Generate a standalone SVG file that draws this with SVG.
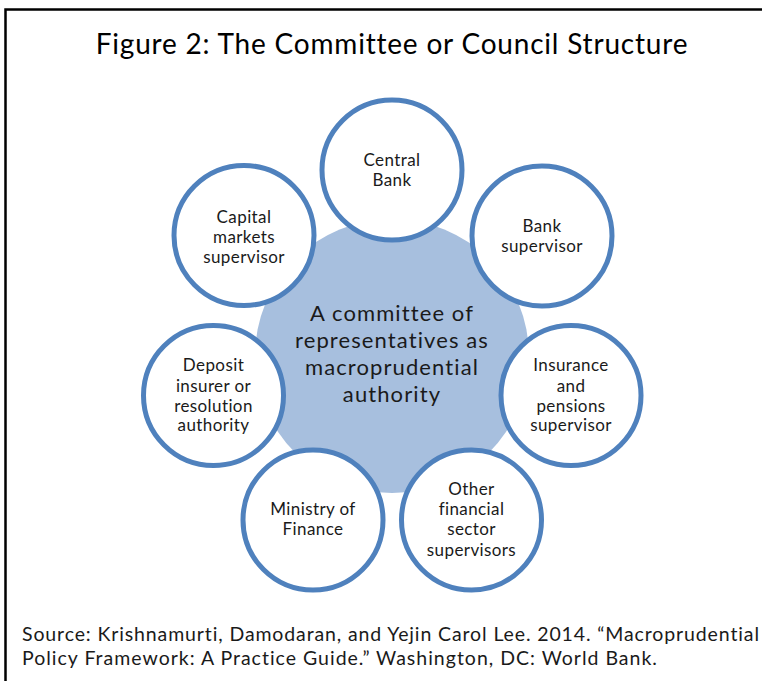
<svg xmlns="http://www.w3.org/2000/svg" width="767" height="681" viewBox="0 0 767 681">
<style>
.frame{stroke:#000;stroke-width:2.5;fill:none}
.hub{fill:#A7BFDE;stroke:none}
.node{fill:#fff;stroke:#4F81BD;stroke-width:5}
.t{font-family:Lato,"Open Sans","Liberation Sans",sans-serif;fill:#1a1a1a;text-anchor:middle}
.n{font-size:17px;letter-spacing:0.4px}
.h{font-size:22px;letter-spacing:1.1px}
.title{font-size:28px;fill:#000;letter-spacing:0.8px}
.src{font-family:Lato,"Open Sans","Liberation Sans",sans-serif;font-size:19.5px;fill:#1a1a1a;letter-spacing:1px}
</style>
<rect width="767" height="681" fill="#fff"/>
<path class="frame" d="M5.5,681 V9.5 H762"/>
<text class="t title" x="392" y="54">Figure 2: The Committee or Council Structure</text>
<g id="hub">
<circle class="hub" cx="392" cy="356" r="137"/>
<text class="t h"><tspan x="392" y="321">A committee of</tspan><tspan x="392" y="348">representatives as</tspan><tspan x="392" y="375">macroprudential</tspan><tspan x="392" y="402">authority</tspan></text>
</g>
<g id="connectors"></g>
<g id="central-bank">
<circle class="node" cx="392" cy="170" r="70"/>
<text class="t n"><tspan x="392" y="166">Central</tspan><tspan x="392" y="186">Bank</tspan></text>
</g>
<g id="bank-supervisor">
<circle class="node" cx="542" cy="236" r="70"/>
<text class="t n"><tspan x="542" y="232">Bank</tspan><tspan x="542" y="252">supervisor</tspan></text>
</g>
<g id="insurance">
<circle class="node" cx="571" cy="395.5" r="70"/>
<text class="t n"><tspan x="571" y="371">Insurance</tspan><tspan x="571" y="391.5">and</tspan><tspan x="571" y="411.5">pensions</tspan><tspan x="571" y="431">supervisor</tspan></text>
</g>
<g id="other">
<circle class="node" cx="471.5" cy="520" r="70"/>
<text class="t n"><tspan x="471.5" y="495">Other</tspan><tspan x="471.5" y="515">financial</tspan><tspan x="471.5" y="535">sector</tspan><tspan x="471.5" y="555.5">supervisors</tspan></text>
</g>
<g id="ministry">
<circle class="node" cx="313" cy="520" r="70"/>
<text class="t n"><tspan x="313" y="515">Ministry of</tspan><tspan x="313" y="535">Finance</tspan></text>
</g>
<g id="deposit">
<circle class="node" cx="213.5" cy="395.5" r="70"/>
<text class="t n"><tspan x="213.5" y="371">Deposit</tspan><tspan x="213.5" y="391.5">insurer or</tspan><tspan x="213.5" y="411.5">resolution</tspan><tspan x="213.5" y="431">authority</tspan></text>
</g>
<g id="capital-markets">
<circle class="node" cx="244" cy="235.5" r="70"/>
<text class="t n"><tspan x="244" y="223">Capital</tspan><tspan x="244" y="243">markets</tspan><tspan x="244" y="262.5">supervisor</tspan></text>
</g>
<text class="src" x="22" y="641" textLength="738" lengthAdjust="spacing">Source: Krishnamurti, Damodaran, and Yejin Carol Lee. 2014. “Macroprudential</text>
<text class="src" x="22" y="665">Policy Framework: A Practice Guide.” Washington, DC: World Bank.</text>
</svg>
